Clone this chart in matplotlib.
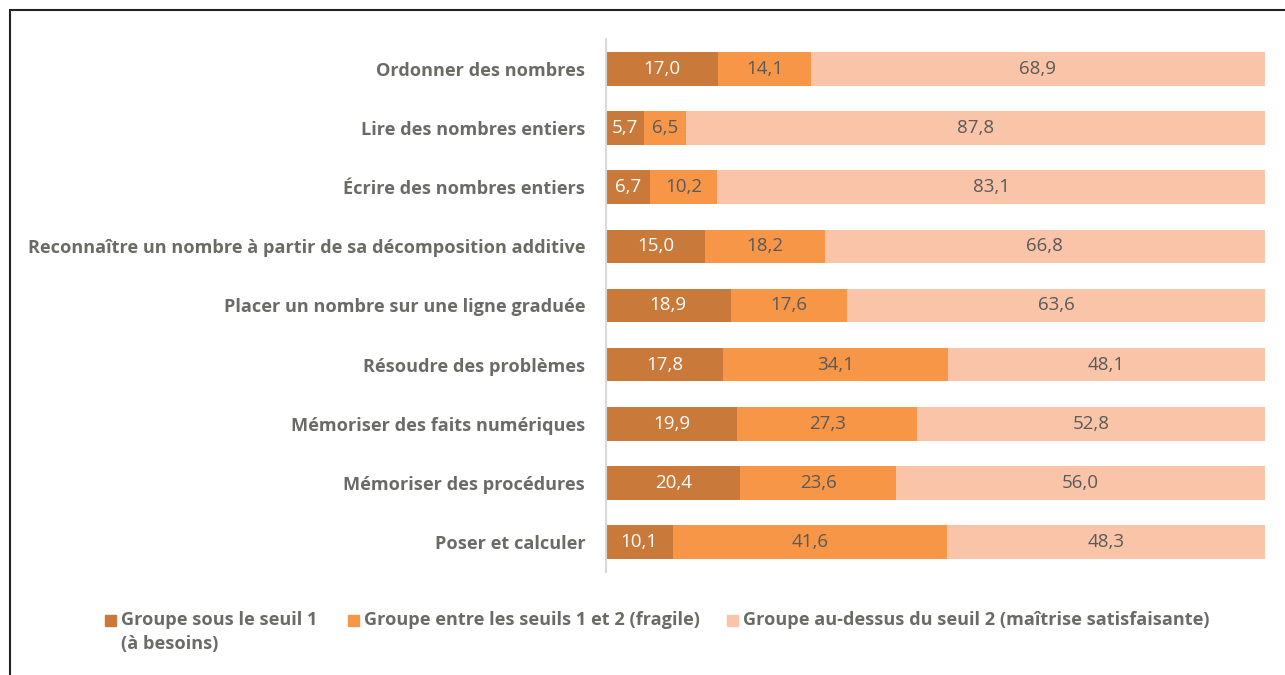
import matplotlib
matplotlib.use("Agg")
import matplotlib.pyplot as plt
from matplotlib.patches import Rectangle

plt.rcParams['font.family'] = ['Open Sans', 'DejaVu Sans']

# Data
categories = [
    "Ordonner des nombres",
    "Lire des nombres entiers",
    "Écrire des nombres entiers",
    "Reconnaître un nombre à partir de sa décomposition additive",
    "Placer un nombre sur une ligne graduée",
    "Résoudre des problèmes",
    "Mémoriser des faits numériques",
    "Mémoriser des procédures",
    "Poser et calculer",
]
sous_seuil1 = [17.0, 5.7, 6.7, 15.0, 18.9, 17.8, 19.9, 20.4, 10.1]
entre_seuils = [14.1, 6.5, 10.2, 18.2, 17.6, 34.1, 27.3, 23.6, 41.6]
au_dessus = [68.9, 87.8, 83.1, 66.8, 63.6, 48.1, 52.8, 56.0, 48.3]

series_labels = [
    "Groupe sous le seuil 1\n(à besoins)",
    "Groupe entre les seuils 1 et 2 (fragile)",
    "Groupe au-dessus du seuil 2 (maîtrise satisfaisante)",
]
colors = ["#C97A3A", "#F79646", "#FAC4A8"]
text_colors = ["white", "#5a5a5a", "#5a5a5a"]
label_grey = "#6b6b66"

fig = plt.figure(figsize=(12.85, 6.75), dpi=100)
ax = fig.add_axes([606 / 1285, 1 - 571.6 / 675, (1265 - 606) / 1285, (571.6 - 39.4) / 675])

y = list(range(len(categories)))
left = [0.0] * len(categories)
for vals, col, tcol in zip([sous_seuil1, entre_seuils, au_dessus], colors, text_colors):
    bars = ax.barh(y, vals, left=left, height=0.57, color=col, edgecolor="none")
    for b, v in zip(bars, vals):
        ax.text(b.get_x() + b.get_width() / 2, b.get_y() + b.get_height() / 2,
                f"{v:.1f}".replace(".", ","), ha="center", va="center",
                fontsize=13.5, color=tcol)
    left = [l + v for l, v in zip(left, vals)]

ax.set_xlim(0, 100)
ax.set_ylim(len(categories) - 0.5, -0.5)
ax.set_yticks(y)
ax.set_yticklabels(categories, fontsize=13.05, fontweight="bold", color=label_grey)
ax.tick_params(axis="y", length=0, pad=15)
ax.set_xticks([])
for s in ["top", "right", "bottom"]:
    ax.spines[s].set_visible(False)
ax.spines["left"].set_color("#d9d9d9")
ax.spines["left"].set_linewidth(1.5)

# outer frame
fig.patches.append(Rectangle((10 / 1285, -0.1), 1.2, 1 - 10 / 675 + 0.1,
                             transform=fig.transFigure, fill=False,
                             edgecolor="#222222", linewidth=1.5))

# legend
leg_x = [105, 348, 727]
for lx, lab, col in zip(leg_x, series_labels, colors):
    fig.patches.append(Rectangle((lx / 1285, 1 - 626 / 675), 11 / 1285, 11 / 675,
                                 transform=fig.transFigure, color=col))
    fig.text((lx + 16) / 1285, 1 - 611 / 675, lab, ha="left", va="top",
             fontsize=13.05, fontweight="bold", color=label_grey, linespacing=1.45)

fig.savefig("out.png", dpi=100)
